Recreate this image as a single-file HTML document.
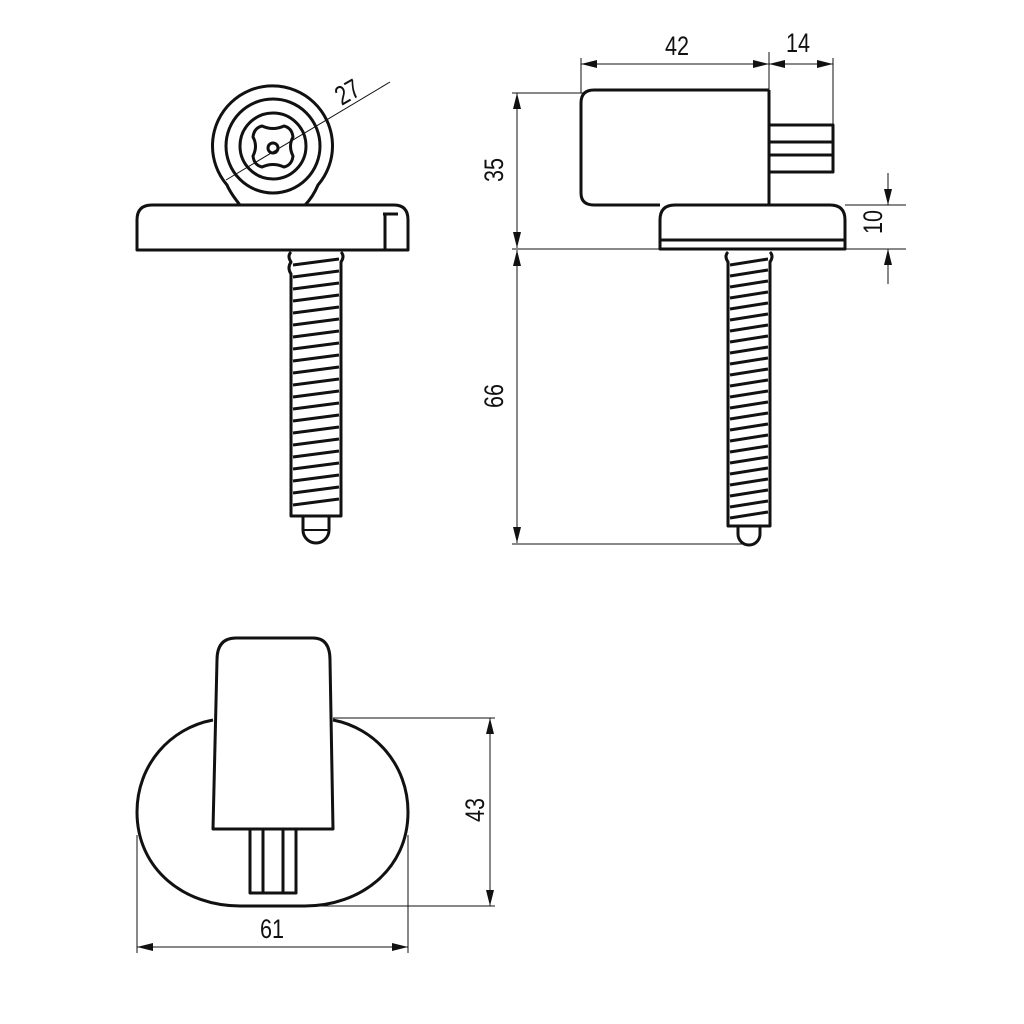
<!DOCTYPE html>
<html><head><meta charset="utf-8"><style>html,body{margin:0;padding:0;background:#fff}svg{display:block}text{font-family:"Liberation Sans",sans-serif;font-size:27px;fill:#111}</style></head>
<body>
<svg width="1024" height="1024" viewBox="0 0 1024 1024" xmlns="http://www.w3.org/2000/svg">
<defs>
<marker id="a" viewBox="0 0 16 8" refX="16" refY="4" markerWidth="16" markerHeight="8" markerUnits="userSpaceOnUse" orient="auto"><path d="M0,0L16,4L0,8z" fill="#111"/></marker>
</defs>
<g fill="none" stroke="#111" stroke-width="1">
<line x1="226" y1="180" x2="390" y2="82"/>
<line x1="581" y1="58" x2="581" y2="93"/>
<line x1="769" y1="52" x2="769" y2="93"/>
<line x1="833" y1="58" x2="833" y2="125"/>
<line x1="675" y1="64" x2="581" y2="64" marker-end="url(#a)"/>
<line x1="675" y1="64" x2="769" y2="64" marker-end="url(#a)"/>
<line x1="801" y1="64" x2="833" y2="64" marker-end="url(#a)"/>
<line x1="801" y1="64" x2="769" y2="64" marker-end="url(#a)"/>
<line x1="512" y1="93" x2="585" y2="93"/>
<line x1="512" y1="249" x2="662" y2="249"/>
<line x1="512" y1="544" x2="745" y2="544"/>
<line x1="517" y1="170" x2="517" y2="93" marker-end="url(#a)"/>
<line x1="517" y1="170" x2="517" y2="248" marker-end="url(#a)"/>
<line x1="517" y1="400" x2="517" y2="250" marker-end="url(#a)"/>
<line x1="517" y1="400" x2="517" y2="543" marker-end="url(#a)"/>
<line x1="845" y1="205" x2="906" y2="205"/>
<line x1="845" y1="249" x2="906" y2="249"/>
<line x1="888" y1="173" x2="888" y2="205" marker-end="url(#a)"/>
<line x1="888" y1="284" x2="888" y2="249" marker-end="url(#a)"/>
<line x1="333" y1="718" x2="495" y2="718"/>
<line x1="272" y1="906" x2="495" y2="906"/>
<line x1="490" y1="810" x2="490" y2="718" marker-end="url(#a)"/>
<line x1="490" y1="810" x2="490" y2="906" marker-end="url(#a)"/>
<line x1="137" y1="835" x2="137" y2="953"/>
<line x1="408" y1="835" x2="408" y2="953"/>
<line x1="272" y1="947" x2="137" y2="947" marker-end="url(#a)"/>
<line x1="272" y1="947" x2="408" y2="947" marker-end="url(#a)"/>
</g>
<g fill="none" stroke="#111" stroke-width="3" stroke-linejoin="round">
<path d="M240,205 C236,200 230,192 227,185 A60,60 0 1 1 318,185 C315,192 310,200 305,205"/>
<circle cx="273" cy="146" r="47"/>
<circle cx="273" cy="146" r="33"/>
<path d="M262,126 Q273,131 284,126 Q292,128 293,137 Q288,146 293,156 Q292,165 284,167 Q273,162 262,167 Q254,165 253,156 Q258,146 253,137 Q254,128 262,126z"/>
<circle cx="273" cy="148" r="5"/>
<path d="M137,250 L137,220 Q137,205 152,205 L394,205 Q408,205 408,220 L408,250 Z"/>
<path d="M383,214 L398,214 M385,214 L385,250"/>
<path d="M291,252 Q287,256 291,262 Q287,268 291,274 L291,516 L341,516 L341,262 Q345,256 341,252"/>
<path d="M303,516 L303,530 A13,13 0 0 0 329,530 L329,516"/>
<line x1="303" y1="530" x2="329" y2="530" stroke-width="2"/>
<path d="M769,90 L594,90 Q581,90 581,103 L581,193 Q581,205 594,205 L660,205"/>
<line x1="769" y1="90" x2="769" y2="205"/>
<path d="M769,125 L833,125 L833,172 L769,172 M769,142 L833,142 M769,155 L833,155"/>
<path d="M660,249 L660,220 Q660,205 675,205 L830,205 Q845,205 845,220 L845,249 Z"/>
<line x1="660" y1="240" x2="845" y2="240"/>
<path d="M728,252 Q724,256 728,262 L728,526 L770,526 L770,262 Q774,256 770,252"/>
<path d="M738,526 L738,534 A11,11 0 0 0 760,534 L760,526"/>
<path d="M213,720 C170,728 137,765 137,812 C137,870 185,906 240,906 L305,906 C360,906 408,870 408,812 C408,765 375,728 333,720"/>
<path d="M217,660 Q217,638 236,638 L313,638 Q330,638 330,660 L333,829 L213,829 Z"/>
<path d="M250,829 L250,893 L296,893 L296,829 M263,829 L263,893 M283,829 L283,893"/>
</g>
<g stroke="#111" stroke-width="3">
<path d="M293,265 L339,259 M293,277 L339,271 M293,289 L339,283 M293,301 L339,295 M293,313 L339,307 M293,325 L339,319 M293,337 L339,331 M293,349 L339,343 M293,361 L339,355 M293,373 L339,367 M293,385 L339,379 M293,397 L339,391 M293,409 L339,403 M293,421 L339,415 M293,433 L339,427 M293,445 L339,439 M293,457 L339,451 M293,469 L339,463 M293,481 L339,475 M293,493 L339,487 M293,505 L339,499"/>
<path d="M730,265 L768,259 M730,276 L768,270 M730,287 L768,281 M730,298 L768,292 M730,309 L768,303 M730,320 L768,314 M730,331 L768,325 M730,342 L768,336 M730,353 L768,347 M730,364 L768,358 M730,375 L768,369 M730,386 L768,380 M730,397 L768,391 M730,408 L768,402 M730,419 L768,413 M730,430 L768,424 M730,441 L768,435 M730,452 L768,446 M730,463 L768,457 M730,474 L768,468 M730,485 L768,479 M730,496 L768,490 M730,507 L768,501 M730,518 L768,512"/>
</g>
<g>
<text transform="translate(352,100) rotate(-30) scale(0.8,1)" text-anchor="middle">27</text>
<text transform="translate(677,55) scale(0.8,1)" text-anchor="middle">42</text>
<text transform="translate(798,52) scale(0.8,1)" text-anchor="middle">14</text>
<text transform="translate(503,170) rotate(-90) scale(0.8,1)" text-anchor="middle">35</text>
<text transform="translate(503,396) rotate(-90) scale(0.8,1)" text-anchor="middle">66</text>
<text transform="translate(882,222) rotate(-90) scale(0.8,1)" text-anchor="middle">10</text>
<text transform="translate(484,810) rotate(-90) scale(0.8,1)" text-anchor="middle">43</text>
<text transform="translate(272,938) scale(0.8,1)" text-anchor="middle">61</text>
</g>
</svg>
</body></html>
